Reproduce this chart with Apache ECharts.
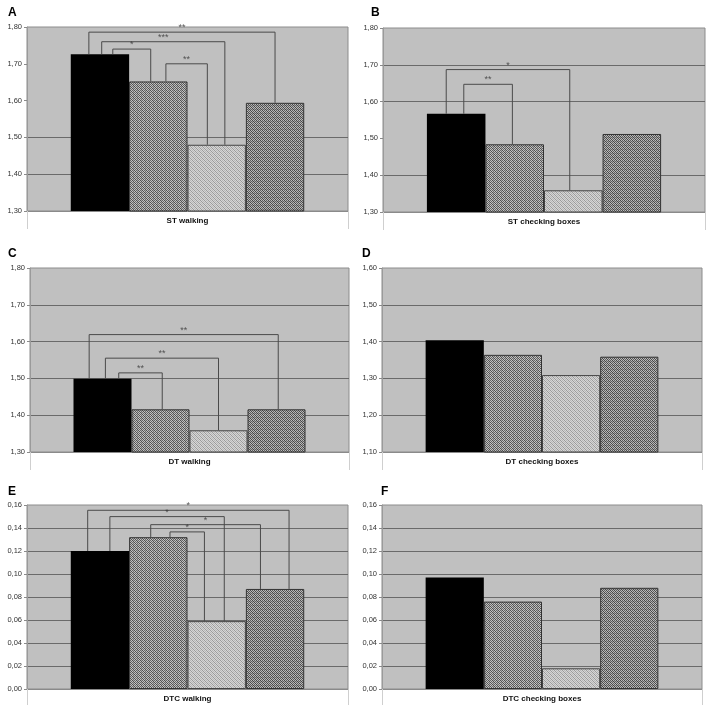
<!DOCTYPE html>
<html><head><meta charset="utf-8">
<script src="https://cdn.jsdelivr.net/npm/echarts@6/dist/echarts.min.js"></script>
<style>html,body{margin:0;padding:0;background:#fff;}#c{width:708px;height:705px;}</style>
</head><body><div id="c"></div>
<script>
// ---- data ----
const panelLetters = ['A', 'B', 'C', 'D', 'E', 'F'];
const categories = ['ST walking', 'ST checking boxes', 'DT walking', 'DT checking boxes', 'DTC walking', 'DTC checking boxes'];
const barBlack = [1.726, 1.567, 1.499, 1.404, 0.120, 0.097];
const barHatch = [1.652, 1.484, 1.416, 1.364, 0.132, 0.076];
const barDots  = [1.480, 1.359, 1.359, 1.309, 0.059, 0.018];
const barCross = [1.594, 1.512, 1.416, 1.359, 0.087, 0.088];
const yMin  = [1.3, 1.3, 1.3, 1.1, 0, 0];
const yMax  = [1.8, 1.8, 1.8, 1.6, 0.16, 0.16];
const yStep = [0.1, 0.1, 0.1, 0.1, 0.02, 0.02];
const ticksA = ['1,30', '1,40', '1,50', '1,60', '1,70', '1,80'];
const ticksD = ['1,10', '1,20', '1,30', '1,40', '1,50', '1,60'];
const ticksE = ['0,00', '0,02', '0,04', '0,06', '0,08', '0,10', '0,12', '0,14', '0,16'];
const yTickLabels = [ticksA, ticksA, ticksA, ticksD, ticksE, ticksE];
// gridline indices that are not visible in the reference
const hiddenGridLines = [[3, 4], [2], [], [], [], []];
// significance brackets: bar a -> bar b, x positions in bar units (bar i centred at i+1), level y, label
const bracketsA = [
  { a: 0, b: 3, xa: 0.81, xb: 4.00, y: 1.786, label: '**' },
  { a: 0, b: 2, xa: 1.03, xb: 3.14, y: 1.760, label: '***' },
  { a: 0, b: 1, xa: 1.22, xb: 1.87, y: 1.740, label: '*' },
  { a: 1, b: 2, xa: 2.13, xb: 2.84, y: 1.700, label: '**' }
];
const bracketsB = [
  { a: 0, b: 2, xa: 0.83, xb: 2.94, y: 1.687, label: '*' },
  { a: 0, b: 1, xa: 1.13, xb: 1.96, y: 1.647, label: '**' }
];
const bracketsC = [
  { a: 0, b: 3, xa: 0.77, xb: 4.03, y: 1.619, label: '**' },
  { a: 0, b: 2, xa: 1.05, xb: 3.00, y: 1.555, label: '**' },
  { a: 0, b: 1, xa: 1.28, xb: 2.03, y: 1.515, label: '**' }
];
const bracketsE = [
  { a: 0, b: 3, xa: 0.79, xb: 4.24, y: 0.1554, label: '*' },
  { a: 0, b: 2, xa: 1.17, xb: 3.13, y: 0.1499, label: '*' },
  { a: 1, b: 3, xa: 1.87, xb: 3.75, y: 0.1429, label: '*' },
  { a: 1, b: 2, xa: 2.20, xb: 2.79, y: 0.1366, label: '*' }
];
const brackets = [bracketsA, bracketsB, bracketsC, [], bracketsE, []];

// ---- layout / style ----
const grids = [
  { left: 27, top: 27, width: 321, height: 184 },
  { left: 383, top: 28, width: 322, height: 184 },
  { left: 30, top: 268, width: 319, height: 184 },
  { left: 382, top: 268, width: 320, height: 184 },
  { left: 27, top: 505, width: 321, height: 184 },
  { left: 382, top: 505, width: 320, height: 184 }
];
const letterPos = [[3, 2], [366, 2], [3, 243], [357, 243], [3, 481], [376, 481]];

function makePattern(w, h, painter) {
  const cv = document.createElement('canvas');
  cv.width = w; cv.height = h;
  const ctx = cv.getContext('2d');
  for (let y = 0; y < h; y++) for (let x = 0; x < w; x++) {
    ctx.fillStyle = painter(x, y);
    ctx.fillRect(x, y, 1, 1);
  }
  return { image: cv, repeat: 'repeat' };
}
const patHatch = makePattern(4, 4, (x, y) => ((x + y) % 2 === 0 ? ((x * 3 + y) % 4 === 0 ? '#505050' : '#666') : ((x + 2 * y) % 4 === 1 ? '#a8a8a8' : '#c2c2c2')));
const patDots = makePattern(4, 4, (x, y) => ((x + y) % 2 === 0 ? ((x + 3 * y) % 4 === 0 ? '#9a9a9a' : '#b6b6b6') : '#d6d6d6'));
const patCross = makePattern(4, 4, (x, y) => ((x + y) % 2 === 0 ? ((x + 3 * y) % 4 === 0 ? '#474747' : '#5e5e5e') : ((2 * x + y) % 4 === 1 ? '#a0a0a0' : '#bababa')));

const barStyles = [
  { color: '#000', borderColor: '#000', borderWidth: 0 },
  { color: patHatch, borderColor: '#333', borderWidth: 1 },
  { color: patDots, borderColor: '#444', borderWidth: 1 },
  { color: patCross, borderColor: '#333', borderWidth: 1 }
];
const barSets = [barBlack, barHatch, barDots, barCross];
const FONT = 'Liberation Sans, Arial, sans-serif';

const option = { animation: false, title: [], grid: [], xAxis: [], yAxis: [], series: [] };

for (let g = 0; g < 6; g++) {
  option.title.push({ text: panelLetters[g], left: letterPos[g][0], top: letterPos[g][1],
    textStyle: { fontSize: 12, fontWeight: 'bold', color: '#000', fontFamily: FONT } });
  option.grid.push(Object.assign({ show: true, backgroundColor: '#c0c0c0', borderColor: '#8c8c8c', borderWidth: 1, containLabel: false }, grids[g]));
  option.xAxis.push({
    type: 'category', gridIndex: g, data: [categories[g]],
    axisLine: { show: true, onZero: false, lineStyle: { color: '#8a8a8a', width: 1 } },
    axisTick: { show: true, length: 18, lineStyle: { color: '#cfcfcf' } },
    axisLabel: { fontSize: 8, fontWeight: 'bold', color: '#111', margin: 6, fontFamily: FONT },
    splitLine: { show: false }
  });
  option.xAxis.push({ type: 'value', gridIndex: g, min: -0.25, max: 5.25, show: false });
  const nLines = yTickLabels[g].length;
  const lineColors = [];
  for (let i = 0; i < nLines; i++) {
    lineColors.push((i === 0 || i === nLines - 1 || hiddenGridLines[g].indexOf(i) >= 0) ? 'rgba(0,0,0,0)' : '#6a6a6a');
  }
  const labels = yTickLabels[g];
  option.yAxis.push({
    type: 'value', gridIndex: g, min: yMin[g], max: yMax[g], interval: yStep[g],
    axisLine: { show: true, onZero: false, lineStyle: { color: '#9a9a9a' } },
    axisTick: { show: true, length: 3, lineStyle: { color: '#8a8a8a' } },
    axisLabel: { fontSize: 7.5, color: '#333', margin: 5, fontFamily: FONT,
      formatter: (v, i) => labels[i] },
    splitLine: { show: true, showMinLine: true, showMaxLine: true, lineStyle: { color: lineColors, width: 1 } }
  });
  for (let s = 0; s < 4; s++) {
    option.series.push({
      type: 'bar', xAxisIndex: 2 * g, yAxisIndex: g, data: [barSets[s][g]],
      barGap: '0%', barCategoryGap: '27.27%', itemStyle: barStyles[s], silent: true, z: 2
    });
  }
  brackets[g].forEach(br => {
    option.series.push({
      type: 'line', xAxisIndex: 2 * g + 1, yAxisIndex: g, symbol: 'none', silent: true, z: 4,
      lineStyle: { color: '#4a4a4a', width: 1 },
      data: [[br.xa, barSets[br.a][g]], [br.xa, br.y], [br.xb, br.y], [br.xb, barSets[br.b][g]]]
    });
    option.series.push({
      type: 'scatter', xAxisIndex: 2 * g + 1, yAxisIndex: g, symbolSize: 0, silent: true, z: 5,
      data: [[(br.xa + br.xb) / 2, br.y, br.label]],
      label: { show: true, position: 'top', distance: 0, formatter: p => p.data[2],
        fontSize: 9, color: '#333', fontFamily: FONT }
    });
  });
}

const chart = echarts.init(document.getElementById('c'), null, { renderer: 'canvas' });
chart.setOption(option);
</script>
</body></html>
